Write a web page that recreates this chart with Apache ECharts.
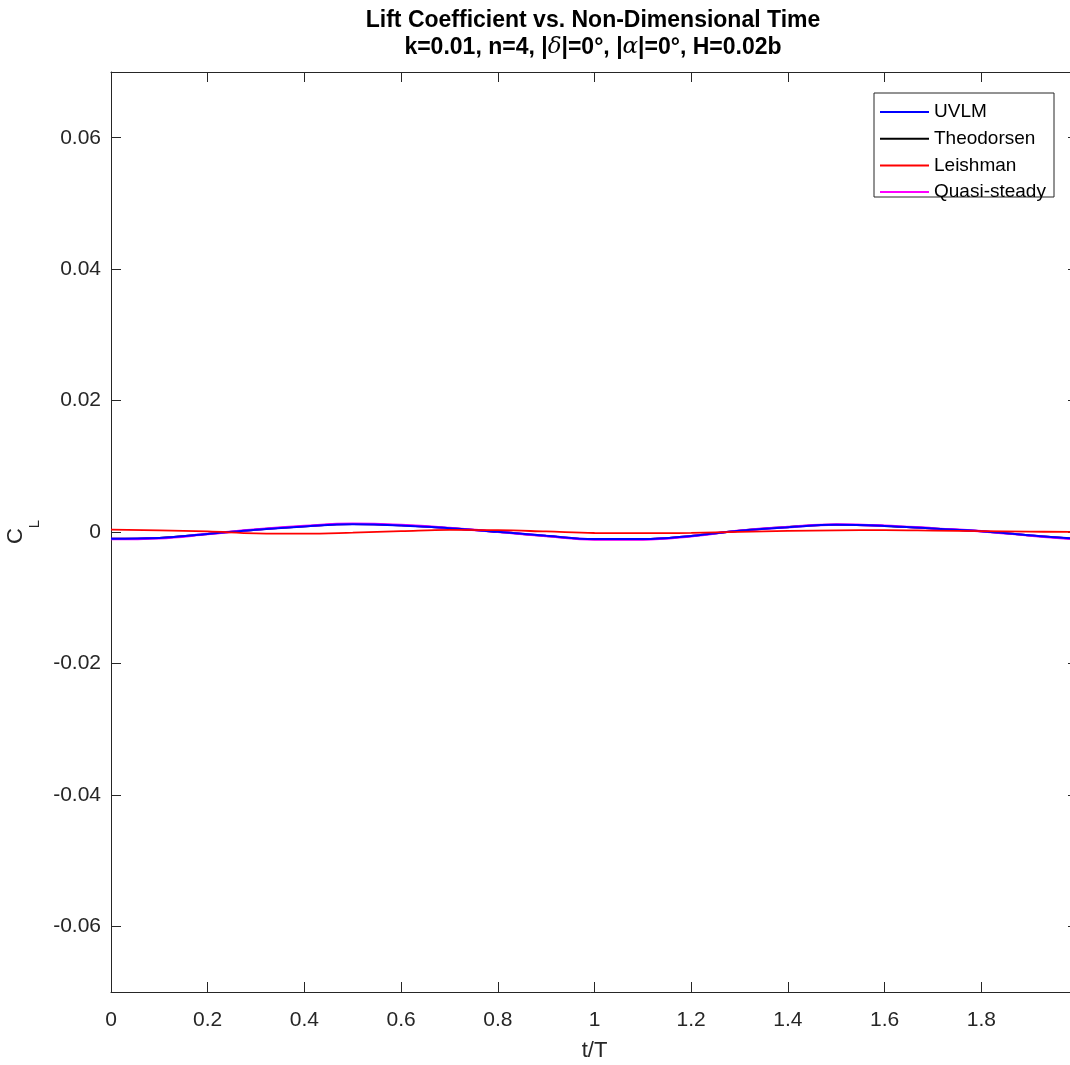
<!DOCTYPE html>
<html>
<head>
<meta charset="utf-8">
<script src="https://cdn.jsdelivr.net/npm/echarts@6/dist/echarts.min.js"></script>
<style>
html,body{margin:0;padding:0;background:#fff;}
#c{width:1070px;height:1065px;}
</style>
</head>
<body>
<div id="c"></div>
<script>
// ---- data ----
const tValues = [0, 0.1, 0.2, 0.3, 0.4, 0.5, 0.6, 0.7, 0.8, 0.9, 1.0, 1.1, 1.2, 1.3, 1.4, 1.5, 1.6, 1.7, 1.8, 1.9, 1.99];
const uvlm = [-0.00102, -0.00090, -0.00030, 0.00035, 0.00085, 0.00118, 0.00100, 0.00058, 0.00003, -0.00058, -0.00108, -0.00108, -0.00060, 0.00020, 0.00072, 0.00110, 0.00092, 0.00052, 0.00012, -0.00050, -0.00100];
const theodorsen = [-0.00104, -0.00091, -0.00031, 0.00035, 0.00087, 0.00120, 0.00101, 0.00058, 0.00002, -0.00060, -0.00110, -0.00109, -0.00061, 0.00020, 0.00074, 0.00112, 0.00093, 0.00052, 0.00011, -0.00052, -0.00102];
const leishman = [0.00035, 0.00025, 0.00008, -0.00020, -0.00025, -0.00010, 0.00012, 0.00032, 0.00028, 0.00008, -0.00015, -0.00018, -0.00012, 0.00003, 0.00016, 0.00026, 0.00028, 0.00022, 0.00014, 0.00006, 0.00000];
const quasiSteady = [-0.00108, -0.00095, -0.00032, 0.00037, 0.00090, 0.00124, 0.00105, 0.00061, 0.00003, -0.00062, -0.00114, -0.00113, -0.00063, 0.00021, 0.00076, 0.00116, 0.00097, 0.00055, 0.00012, -0.00053, -0.00106];
const seriesNames = ['UVLM', 'Theodorsen', 'Leishman', 'Quasi-steady'];
const xTicks = [0, 0.2, 0.4, 0.6, 0.8, 1.0, 1.2, 1.4, 1.6, 1.8, 2.0];
const xTickLabels = ['0', '0.2', '0.4', '0.6', '0.8', '1', '1.2', '1.4', '1.6', '1.8', ''];
const yTicks = [-0.06, -0.04, -0.02, 0, 0.02, 0.04, 0.06];
const yTickLabels = ['-0.06', '-0.04', '-0.02', '0', '0.02', '0.04', '0.06'];
const titleLine1 = 'Lift Coefficient vs. Non-Dimensional Time';

function pairs(ys) { return tValues.map((t, i) => [t, ys[i]]); }
function labelFor(ticks, labels) {
  return v => { const i = ticks.findIndex(t => Math.abs(t - v) < 1e-9); return i < 0 ? '' : labels[i]; };
}

const FONT = '"Liberation Sans", Arial, Helvetica, sans-serif';
const AX = '#262626';

const chart = echarts.init(document.getElementById('c'), null, {renderer: 'canvas'});

const baseX = {
  type: 'value', min: 0, max: 2, interval: 0.2,
  axisLine: {show: true, onZero: false, lineStyle: {color: AX, width: 1}},
  axisTick: {show: true, inside: true, length: 10, lineStyle: {color: AX}},
  splitLine: {show: false}
};
const baseY = {
  type: 'value', min: -0.07, max: 0.07,
  axisLine: {show: true, onZero: false, lineStyle: {color: AX, width: 1}},
  axisTick: {show: true, inside: true, length: 10, lineStyle: {color: AX}, customValues: yTicks},
  splitLine: {show: false}
};

const lineSeries = (name, data, color, z, w) => ({
  name, type: 'line', data: pairs(data), smooth: 0.4, symbol: 'none', showSymbol: false,
  lineStyle: {color, width: w}, itemStyle: {color}, z, xAxisIndex: 0, yAxisIndex: 0,
  emphasis: {disabled: true}, animation: false
});

chart.setOption({
  animation: false,
  backgroundColor: '#fff',
  title: [
    {text: titleLine1, left: 588, top: 4, textAlign: 'center',
     textStyle: {fontFamily: FONT, fontWeight: 'bold', fontSize: 23, color: '#000'}},
    {text: 'k=0.01, n=4, |{g|δ}|=0°, |{g|α}|=0°, H=0.02b', left: 588, top: 31, textAlign: 'center',
     textStyle: {fontFamily: FONT, fontWeight: 'bold', fontSize: 23, color: '#000',
       rich: {g: {fontFamily: '"DejaVu Serif", "Liberation Serif", serif', fontStyle: 'italic', fontWeight: 'normal', fontSize: 23, color: '#000'}}}}
  ],
  grid: {left: 111, top: 72, width: 967, height: 920, containLabel: false, outerBoundsMode: 'none', show: false},
  graphic: [
    {type: 'rect', shape: {x: 874, y: 93, width: 180, height: 104}, style: {fill: '#fff', stroke: AX, lineWidth: 1}, z: 5, silent: true}
  ],
  legend: {
    data: seriesNames, orient: 'vertical', left: 880, top: 102, padding: 0,
    itemWidth: 49, itemHeight: 2, itemGap: 6.7, icon: 'rect',
    textStyle: {fontFamily: FONT, fontSize: 19, color: '#000', lineHeight: 20},
    z: 10, selectedMode: false
  },
  xAxis: [
    Object.assign({}, baseX, {position: 'bottom',
      axisLabel: {show: true, color: AX, fontFamily: FONT, fontSize: 21, margin: 18,
        formatter: labelFor(xTicks, xTickLabels)},
      name: 't/T', nameLocation: 'middle', nameGap: 48,
      nameTextStyle: {fontFamily: FONT, fontSize: 22, color: AX}}),
    Object.assign({}, baseX, {position: 'top', axisLabel: {show: false}})
  ],
  yAxis: [
    Object.assign({}, baseY, {position: 'left',
      axisLabel: {show: true, color: AX, fontFamily: FONT, fontSize: 21, margin: 10, customValues: yTicks,
        formatter: labelFor(yTicks, yTickLabels)},
      name: '{c|C}{s|L}', nameLocation: 'middle', nameGap: 66, nameRotate: 90,
      nameTextStyle: {fontFamily: FONT, color: AX,
        rich: {c: {fontFamily: FONT, fontSize: 22, color: AX, lineHeight: 22, verticalAlign: 'top'},
               s: {fontFamily: FONT, fontSize: 15, color: AX, lineHeight: 16, verticalAlign: 'top', padding: [22, 0, 0, 0]}}}}),
    Object.assign({}, baseY, {position: 'right', axisLabel: {show: false}})
  ],
  series: [
    lineSeries('Theodorsen', theodorsen, '#000000', 2, 2),
    lineSeries('Quasi-steady', quasiSteady, '#ff00ff', 3, 2.5),
    lineSeries('UVLM', uvlm, '#0000ff', 4, 2),
    lineSeries('Leishman', leishman, '#ff0000', 5, 1.8)
  ]
});
</script>
</body>
</html>
